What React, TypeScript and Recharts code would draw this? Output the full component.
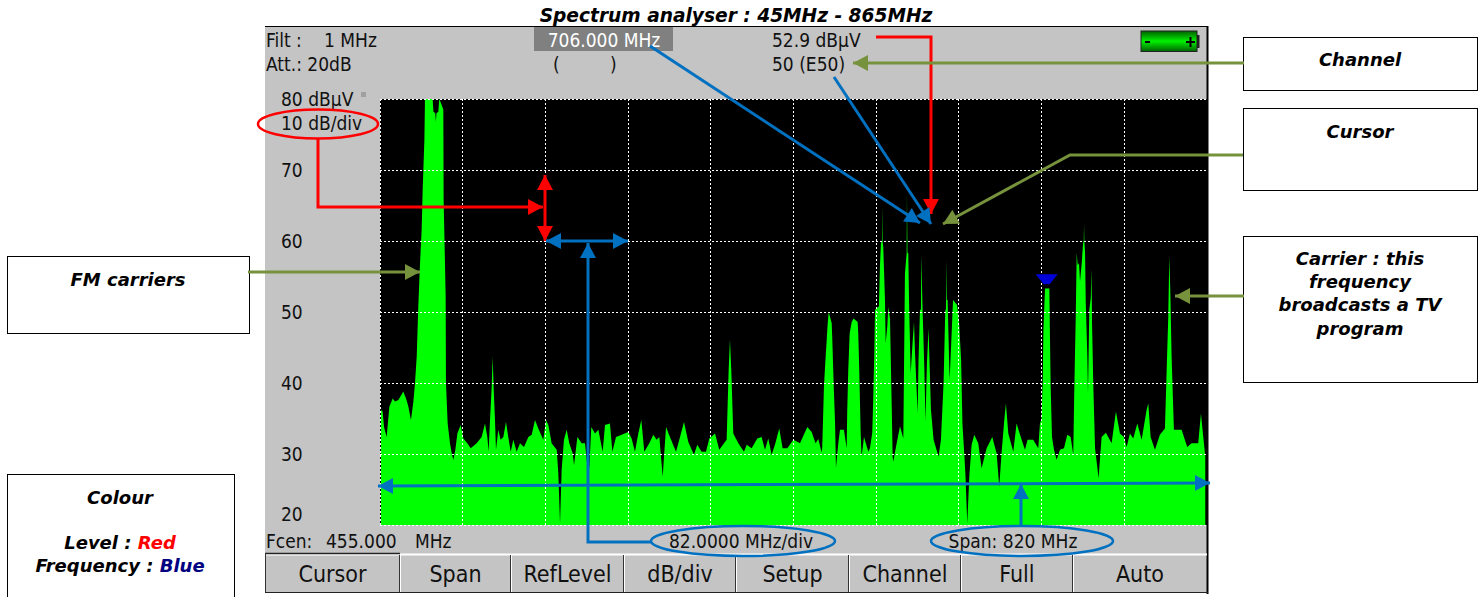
import { AreaChart, Area, XAxis, YAxis, CartesianGrid, ReferenceLine, ReferenceDot } from "recharts";

// spectrum trace
const freqMHz = [
  46.0, 47.6, 49.0, 51.6, 54.3, 57.6, 59.9, 63.2, 68.1, 70.8,
  73.1, 75.7, 78.1, 79.7, 81.4, 83.0, 84.7, 86.3, 87.3, 89.0,
  89.6, 97.2, 98.0, 99.8, 100.4, 101.0, 102.8, 103.8, 106.1, 107.8,
  108.1, 110.1, 110.4, 112.1, 114.4, 116.4, 117.7, 119.7, 121.7, 125.0,
  127.6, 131.6, 134.9, 140.8, 145.8, 149.1, 151.4, 152.7, 154.1, 155.7,
  156.7, 157.7, 159.0, 160.0, 162.3, 164.6, 167.3, 169.9, 172.2, 174.6,
  177.2, 180.5, 183.8, 187.8, 192.1, 195.4, 198.7, 202.0, 206.9, 209.6,
  211.9, 215.2, 220.2, 221.8, 223.5, 225.1, 227.4, 230.1, 232.7, 236.0,
  237.4, 240.7, 245.0, 248.3, 250.6, 252.6, 254.5, 258.2, 261.5, 265.8,
  268.1, 273.0, 275.4, 279.0, 284.6, 291.2, 294.5, 297.8, 301.1, 304.1,
  307.1, 312.0, 316.0, 319.3, 322.0, 323.3, 325.3, 328.6, 332.5, 338.5,
  342.5, 346.4, 350.7, 356.3, 359.6, 363.9, 368.2, 371.5, 377.2, 381.4,
  388.7, 390.7, 392.0, 393.3, 395.3, 400.3, 405.9, 408.6, 413.5, 419.1,
  423.4, 426.7, 430.0, 433.3, 436.6, 440.9, 444.2, 448.9, 454.8, 461.4,
  468.7, 473.0, 476.9, 479.6, 482.9, 483.5, 485.2, 486.5, 487.9, 488.9,
  489.9, 492.9, 493.5, 494.9, 496.2, 497.1, 499.4, 501.1, 505.0, 507.7,
  508.3, 509.3, 510.7, 512.7, 514.6, 518.6, 519.2, 520.2, 521.6, 522.5,
  524.9, 529.2, 530.8, 533.1, 534.1, 535.1, 535.8, 539.7, 540.7, 541.7,
  542.7, 543.0, 543.3, 544.0, 545.7, 546.4, 548.0, 549.0, 550.7, 552.4,
  553.3, 553.9, 556.6, 560.6, 563.9, 565.5, 567.2, 567.5, 568.0, 568.8,
  569.8, 571.2, 573.2, 574.5, 575.5, 578.1, 578.9, 580.4, 581.4, 581.7,
  583.0, 584.7, 585.9, 587.3, 588.9, 589.9, 591.3, 593.9, 598.8, 601.2,
  603.8, 605.5, 606.2, 606.5, 607.0, 607.8, 609.8, 611.5, 613.2, 617.2,
  619.2, 621.2, 622.5, 624.5, 625.5, 627.3, 629.3, 631.6, 634.2, 638.2,
  641.5, 646.5, 652.1, 656.4, 659.0, 661.4, 663.7, 665.6, 668.0, 672.9,
  676.2, 681.2, 684.5, 687.1, 692.7, 697.7, 699.4, 701.0, 702.1, 702.8,
  704.4, 708.7, 709.3, 710.0, 711.3, 713.3, 715.9, 719.2, 723.2, 726.5,
  729.8, 732.4, 733.4, 734.8, 735.8, 736.8, 738.1, 739.1, 740.8, 742.1,
  742.8, 743.1, 743.4, 744.1, 744.8, 746.3, 747.0, 748.3, 749.8, 750.3,
  750.8, 751.0, 752.3, 754.0, 757.5, 760.5, 764.8, 770.4, 774.7, 778.7,
  782.6, 785.3, 788.6, 791.9, 795.9, 800.2, 805.1, 806.8, 809.1, 813.4,
  818.3, 823.3, 825.0, 826.6, 827.6, 828.6, 829.9, 832.2, 836.5, 839.8,
  845.4, 849.7, 856.3, 859.0, 861.3, 863.3,
];
const levelDb = [
  36.2, 36.0, 33.8, 32.4, 36.7, 37.8, 37.4, 37.6, 38.8, 37.8,
  36.7, 34.8, 37.4, 40.0, 43.7, 50.8, 56.9, 61.5, 67.2, 74.2,
  80.0, 80.0, 78.2, 78.0, 76.8, 78.0, 78.2, 80.0, 79.2, 78.5,
  65.8, 52.2, 40.0, 34.3, 31.5, 29.9, 29.2, 30.6, 32.9, 34.1,
  32.2, 31.5, 30.8, 31.5, 32.4, 34.3, 32.4, 30.3, 34.8, 39.3,
  43.7, 39.3, 34.8, 30.6, 33.4, 32.0, 32.4, 34.5, 32.4, 30.3,
  32.0, 30.3, 31.5, 31.0, 32.4, 32.7, 34.8, 33.6, 32.0, 34.8,
  34.1, 31.5, 30.6, 27.3, 20.2, 27.7, 32.0, 33.4, 31.5, 30.1,
  28.4, 32.4, 31.5, 31.5, 28.2, 28.2, 33.8, 32.9, 33.4, 30.3,
  34.1, 34.3, 30.3, 32.4, 32.7, 33.1, 32.2, 30.3, 32.9, 34.8,
  30.3, 31.5, 32.7, 32.0, 32.4, 30.1, 26.8, 33.8, 32.4, 30.3,
  32.4, 34.5, 31.7, 29.9, 31.3, 30.3, 30.3, 32.2, 32.9, 30.6,
  32.0, 41.8, 46.1, 41.8, 32.9, 31.5, 30.3, 31.3, 30.8, 32.2,
  32.4, 30.6, 32.2, 29.9, 31.3, 33.6, 30.8, 30.8, 32.0, 31.5,
  33.8, 33.1, 31.5, 32.1, 30.2, 31.0, 39.5, 42.8, 46.0, 48.4,
  50.0, 48.4, 46.0, 39.5, 34.4, 28.0, 31.5, 33.4, 33.4, 30.8,
  36.2, 41.8, 47.0, 48.6, 49.1, 48.6, 47.0, 41.8, 33.0, 29.6,
  32.4, 30.3, 30.8, 33.0, 38.0, 44.2, 50.3, 50.8, 56.4, 59.7,
  60.0, 64.8, 60.0, 59.2, 51.7, 45.6, 48.0, 50.7, 49.0, 36.7,
  29.6, 28.9, 31.0, 33.9, 32.2, 55.4, 58.3, 66.7, 58.3, 58.3,
  49.8, 41.4, 46.0, 48.6, 44.2, 35.7, 42.8, 50.3, 50.3, 58.0,
  50.3, 42.3, 34.5, 42.8, 47.7, 42.8, 36.2, 32.0, 29.6, 32.0,
  40.0, 50.3, 50.3, 57.3, 51.7, 51.7, 40.4, 46.0, 51.7, 51.0,
  48.4, 43.2, 34.3, 29.6, 27.0, 20.2, 26.8, 31.3, 32.7, 31.5,
  28.0, 30.8, 32.4, 30.1, 25.4, 30.3, 34.3, 37.1, 32.9, 30.3,
  34.3, 32.0, 30.6, 32.0, 32.0, 30.8, 34.3, 35.0, 40.4, 47.5,
  53.3, 53.3, 46.5, 39.5, 32.4, 30.6, 29.2, 30.6, 30.8, 32.7,
  32.4, 29.9, 39.0, 48.9, 58.3, 56.6, 56.9, 54.3, 56.9, 59.7,
  60.0, 62.3, 60.0, 58.3, 51.2, 44.0, 38.5, 50.3, 52.0, 56.1,
  52.0, 48.4, 39.5, 30.8, 26.6, 32.4, 33.0, 31.5, 36.0, 32.9,
  32.4, 31.0, 32.9, 32.2, 34.3, 32.0, 36.2, 37.1, 32.4, 30.6,
  32.7, 33.6, 41.8, 49.3, 57.8, 53.1, 43.7, 33.4, 33.4, 33.4,
  31.0, 31.5, 31.5, 35.7, 32.4, 29.6,
];

const xGrid = [45, 127, 209, 291, 373, 455, 537, 619, 701, 783, 865];
const yTicks = [20, 30, 40, 50, 60, 70, 80];
const markerFreq = 706;
const markerLevel = 54.6;

const softkeys = ["Cursor", "Span", "RefLevel", "dB/div", "Setup", "Channel", "Full", "Auto"];
const softkeyEdges = [265, 400, 511, 624, 736, 849, 961, 1073, 1207];

const chartData = freqMHz.map((f, i) => ({ f, level: levelDb[i] }));

const screenFont = "'DejaVu Sans Condensed', 'DejaVu Sans', sans-serif";
const noteFont = "'DejaVu Sans', Verdana, sans-serif";
const RED = "#ff0000";
const BLUE = "#0070c0";
const OLIVE = "#76923c";

const YTick = ({ y, payload }: any) => (
  <text x={281} y={y + (payload.value === 20 ? -11 : 0)} dy={7} fontFamily={screenFont} fontSize={19} fill="#111">
    {payload.value === 80 ? "80 dBµV" : payload.value}
  </text>
);

const Marker = ({ cx, cy }: any) => (
  <polygon points={`${cx - 11},${cy - 5} ${cx + 11},${cy - 5} ${cx + 3},${cy + 5} ${cx - 3},${cy + 5}`} fill="#0000d8" />
);

const Arrow = ({ pts, color, both }: { pts: number[][]; color: string; both?: boolean }) => {
  const head = (a: number[], b: number[]) => {
    const dx = b[0] - a[0];
    const dy = b[1] - a[1];
    const len = Math.hypot(dx, dy);
    const ux = dx / len;
    const uy = dy / len;
    const bx = b[0] - ux * 15;
    const by = b[1] - uy * 15;
    return `${b[0]},${b[1]} ${bx - uy * 8},${by + ux * 8} ${bx + uy * 8},${by - ux * 8}`;
  };
  const last = pts.length - 1;
  return (
    <g>
      <polyline points={pts.map((p) => p.join(",")).join(" ")} fill="none" stroke={color} strokeWidth={3} />
      <polygon points={head(pts[last - 1], pts[last])} fill={color} />
      {both && <polygon points={head(pts[1], pts[0])} fill={color} />}
    </g>
  );
};

const Note = ({ x, y, w, h, lines }: { x: number; y: number; w: number; h: number; lines: [string, number][] }) => (
  <g>
    <rect x={x + 0.5} y={y + 0.5} width={w} height={h} fill="#fff" stroke="#000" />
    {lines.map(([t, ly]) => (
      <text key={t} x={x + w / 2} y={ly} textAnchor="middle" fontFamily={noteFont} fontSize={18} fontWeight="bold" fontStyle="italic">
        {t}
      </text>
    ))}
  </g>
);

const ScreenText = ({ x, y, children, fill, size, anchor }: any) => (
  <text x={x} y={y} fontFamily={screenFont} fontSize={size || 19} fill={fill || "#111"} textAnchor={anchor || "start"}>
    {children}
  </text>
);

export default function App() {
  return (
    <div style={{ position: "absolute", left: 0, top: 0, width: 1483, height: 597, background: "#fff", overflow: "hidden" }}>
      <div style={{ position: "absolute", left: 265, top: 27, width: 942, height: 566, background: "#c4c4c4" }} />
      <div style={{ position: "absolute", left: 0, top: 0 }}>
        <AreaChart width={1483} height={597} data={chartData} margin={{ top: 99, right: 276, bottom: 72, left: 265 }}>
          <CartesianGrid fill="#000" horizontal={false} vertical={false} />
          <XAxis dataKey="f" type="number" domain={[45, 865]} hide />
          <YAxis width={115} domain={[20, 80]} ticks={yTicks} interval={0} axisLine={false} tickLine={false} tick={<YTick />} />
          <Area dataKey="level" type="linear" baseValue={20} fill="#00ff00" fillOpacity={1} stroke="none" isAnimationActive={false} />
          {xGrid.map((x) => (
            <ReferenceLine key={x} x={x} stroke="#fff" strokeDasharray="2 2" shapeRendering="crispEdges" />
          ))}
          {yTicks.map((y) => (
            <ReferenceLine key={y} y={y} stroke="#fff" strokeDasharray="2 2" shapeRendering="crispEdges" />
          ))}
          <ReferenceDot x={markerFreq} y={markerLevel} r={5} shape={<Marker />} />
        </AreaChart>
      </div>

      <svg width={1483} height={597} style={{ position: "absolute", left: 0, top: 0 }}>
        <defs>
          <linearGradient id="batt" x1="0" y1="0" x2="0" y2="1">
            <stop offset="0" stopColor="#006000" />
            <stop offset="0.5" stopColor="#00f000" />
            <stop offset="1" stopColor="#006000" />
          </linearGradient>
        </defs>

        {/* frame */}
        <line x1={265} y1={26.5} x2={1208} y2={26.5} stroke="#000" />
        <line x1={1207.5} y1={26} x2={1207.5} y2={594} stroke="#000" strokeWidth={2} />
        <rect x={361} y={92} width={5} height={5} fill="#a0a0a0" />

        {/* header readouts */}
        <ScreenText x={266} y={47}>Filt :</ScreenText>
        <ScreenText x={324} y={47}>1 MHz</ScreenText>
        <ScreenText x={266} y={71}>Att.: 20dB</ScreenText>
        <rect x={534} y={27} width={139} height={24} fill="#808080" />
        <ScreenText x={604} y={47} fill="#fff" anchor="middle">706.000 MHz</ScreenText>
        <ScreenText x={553} y={71}>(</ScreenText>
        <ScreenText x={610} y={71}>)</ScreenText>
        <ScreenText x={772} y={47}>52.9 dBµV</ScreenText>
        <ScreenText x={772} y={71}>50 (E50)</ScreenText>
        <ScreenText x={281} y={130}>10 dB/div</ScreenText>

        {/* battery */}
        <rect x={1141} y={31} width={56} height={20.5} fill="url(#batt)" stroke="#222" />
        <rect x={1197} y={35} width={2.5} height={13} fill="#222" />
        <rect x={1145} y={41} width={5} height={2} fill="#000" />
        <rect x={1186} y={41} width={9} height={2} fill="#000" />
        <rect x={1189.5} y={37} width={2} height={10} fill="#000" />

        {/* footer */}
        <ScreenText x={266} y={548}>Fcen:</ScreenText>
        <ScreenText x={326} y={548}>455.000</ScreenText>
        <ScreenText x={415} y={548}>MHz</ScreenText>
        <ScreenText x={741} y={548} anchor="middle">82.0000 MHz/div</ScreenText>
        <ScreenText x={1013} y={548} anchor="middle">Span: 820 MHz</ScreenText>

        {/* softkeys */}
        <line x1={265} y1={554.5} x2={1207} y2={554.5} stroke="#fff" strokeWidth={2} />
        <line x1={265} y1={553.5} x2={400} y2={553.5} stroke="#222" strokeWidth={1.5} />
        <line x1={265.5} y1={553} x2={265.5} y2={592} stroke="#333" />
        <line x1={265} y1={592.5} x2={1208} y2={592.5} stroke="#222" />
        {softkeys.map((label, i) => (
          <g key={label}>
            {i > 0 && <line x1={softkeyEdges[i] - 0.5} y1={555} x2={softkeyEdges[i] - 0.5} y2={592} stroke="#333" />}
            {i > 0 && <line x1={softkeyEdges[i] + 0.5} y1={555} x2={softkeyEdges[i] + 0.5} y2={592} stroke="#fff" />}
            <ScreenText x={(softkeyEdges[i] + softkeyEdges[i + 1]) / 2} y={582} size={23} anchor="middle">
              {label}
            </ScreenText>
          </g>
        ))}

        {/* title */}
        <text x={736} y={22} textAnchor="middle" fontFamily={noteFont} fontSize={18.6} fontWeight="bold" fontStyle="italic">
          Spectrum analyser : 45MHz - 865MHz
        </text>

        {/* annotation boxes */}
        <Note x={1243} y={37} w={234} h={53} lines={[["Channel", 66]]} />
        <Note x={1243} y={108} w={234} h={82} lines={[["Cursor", 138]]} />
        <Note
          x={1243}
          y={236}
          w={234}
          h={146}
          lines={[
            ["Carrier : this", 265],
            ["frequency", 288],
            ["broadcasts a TV", 311],
            ["program", 335],
          ]}
        />
        <Note x={7} y={256} w={242} h={77} lines={[["FM carriers", 286]]} />
        <rect x={7.5} y={474.5} width={227} height={130} fill="#fff" stroke="#000" />
        <g fontFamily={noteFont} fontSize={18} fontWeight="bold" fontStyle="italic" textAnchor="middle">
          <text x={120} y={504}>Colour</text>
          <text x={120} y={549}>
            Level : <tspan fill={RED}>Red</tspan>
          </text>
          <text x={120} y={572}>
            Frequency : <tspan fill="#000080">Blue</tspan>
          </text>
        </g>

        {/* red callouts */}
        <ellipse cx={318} cy={124} rx={60} ry={14.5} fill="none" stroke={RED} strokeWidth={2.5} />
        <Arrow pts={[[318, 139], [318, 207], [543, 207]]} color={RED} />
        <Arrow pts={[[545, 175], [545, 241]]} color={RED} both />
        <Arrow pts={[[876, 37], [931, 37], [931, 214]]} color={RED} />

        {/* blue callouts */}
        <ellipse cx={743} cy={541} rx={92} ry={15} fill="none" stroke={BLUE} strokeWidth={2.5} />
        <ellipse cx={1022} cy={541} rx={91} ry={15} fill="none" stroke={BLUE} strokeWidth={2.5} />
        <Arrow pts={[[546, 241], [628, 241]]} color={BLUE} both />
        <Arrow pts={[[652, 542], [588, 542], [588, 243]]} color={BLUE} />
        <Arrow pts={[[1021, 526], [1021, 484]]} color={BLUE} />
        <Arrow pts={[[378, 486], [1210, 483]]} color={BLUE} both />
        <Arrow pts={[[650, 46], [920, 223]]} color={BLUE} />
        <Arrow pts={[[834, 77], [931, 224]]} color={BLUE} />

        {/* olive callouts */}
        <Arrow pts={[[1244, 63], [853, 63]]} color={OLIVE} />
        <Arrow pts={[[1243, 155], [1070, 155], [943, 224]]} color={OLIVE} />
        <Arrow pts={[[248, 272], [420, 272]]} color={OLIVE} />
        <Arrow pts={[[1244, 296], [1175, 296]]} color={OLIVE} />
      </svg>
    </div>
  );
}
